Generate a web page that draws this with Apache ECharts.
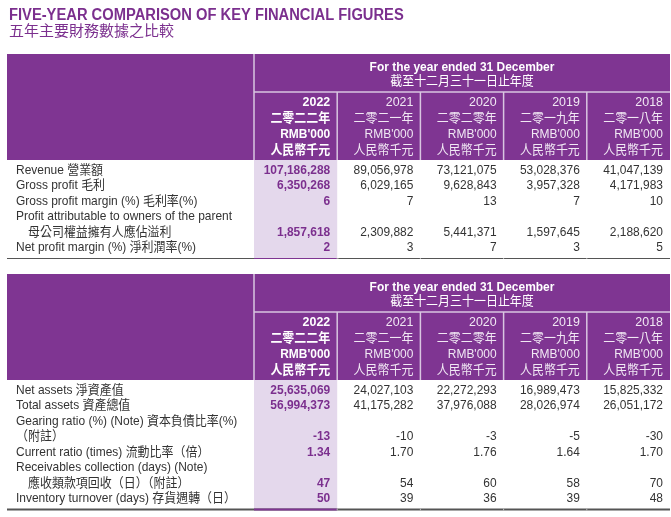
<!DOCTYPE html>
<html>
<head>
<meta charset="utf-8">
<script src="https://cdn.jsdelivr.net/npm/echarts@6/dist/echarts.min.js"></script>
<style>
  html, body { margin: 0; padding: 0; background: #fff; }
  #main { width: 671px; height: 517px; }
</style>
</head>
<body>
<div id="main"></div>
<script>
// 表头文字
var titleEn = 'FIVE-YEAR COMPARISON OF KEY FINANCIAL FIGURES';
var titleCn = '五年主要財務數據之比較';
var headEn = 'For the year ended 31 December';
var headCn = '截至十二月三十一日止年度';
var years = ['2022', '2021', '2020', '2019', '2018'];
var yearsCn = ['二零二二年', '二零二一年', '二零二零年', '二零一九年', '二零一八年'];
var unitEn = "RMB'000";
var unitCn = '人民幣千元';

// 第一张表
var revenue = [107186288, 89056978, 73121075, 53028376, 41047139];
var grossProfit = [6350268, 6029165, 9628843, 3957328, 4171983];
var grossMargin = [6, 7, 13, 7, 10];
var profitOwners = [1857618, 2309882, 5441371, 1597645, 2188620];
var netMargin = [2, 3, 7, 3, 5];

// 第二张表
var netAssets = [25635069, 24027103, 22272293, 16989473, 15825332];
var totalAssets = [56994373, 41175282, 37976088, 28026974, 26051172];
var gearing = [-13, -10, -3, -5, -30];
var currentRatio = [1.34, 1.70, 1.76, 1.64, 1.70];
var receivableDays = [47, 54, 60, 58, 70];
var inventoryDays = [50, 39, 36, 39, 48];

var table1 = [
  { label: ['Revenue 營業額'], values: revenue, dp: 0 },
  { label: ['Gross profit 毛利'], values: grossProfit, dp: 0 },
  { label: ['Gross profit margin (%) 毛利率(%)'], values: grossMargin, dp: 0 },
  { label: ['Profit attributable to owners of the parent', '  母公司權益擁有人應佔溢利'], values: profitOwners, dp: 0 },
  { label: ['Net profit margin (%) 淨利潤率(%)'], values: netMargin, dp: 0 }
];
var table2 = [
  { label: ['Net assets 淨資產值'], values: netAssets, dp: 0 },
  { label: ['Total assets 資產總值'], values: totalAssets, dp: 0 },
  { label: ['Gearing ratio (%) (Note) 資本負債比率(%)', '（附註）'], values: gearing, dp: 0 },
  { label: ['Current ratio (times) 流動比率（倍）'], values: currentRatio, dp: 2 },
  { label: ['Receivables collection (days) (Note)', '  應收類款項回收（日）（附註）'], values: receivableDays, dp: 0 },
  { label: ['Inventory turnover (days) 存貨週轉（日）'], values: inventoryDays, dp: 0 }
];

var PURPLE = '#7f3592';
var TITLE = '#7b2f8e';
var LAV = '#e4d8ec';
var GRID = '#d9c6e1';
var FONT = '"Liberation Sans", Arial, "Noto Sans CJK TC", sans-serif';
var SX = 0.92;

var x0 = 7, xL = 254, xR = 670;
var colW = (xR - xL) / years.length;
var lineH = 15.5;

function fmt(v, dp) {
  return v.toLocaleString('en-US', { minimumFractionDigits: dp, maximumFractionDigits: dp });
}

function txt(x, y, s, o) {
  o = o || {};
  return {
    type: 'text', x: x, y: y, scaleX: o.sx || SX, silent: true, z: 10,
    style: {
      x: 0, y: 0, text: s,
      fill: o.color || '#333',
      font: (o.bold ? 'bold ' : '') + (o.size || 13) + 'px ' + FONT,
      align: o.align || 'left',
      verticalAlign: 'middle'
    }
  };
}
function rect(x, y, w, h, color) {
  return { type: 'rect', silent: true, shape: { x: x, y: y, width: w, height: h }, style: { fill: color } };
}
function line(x1, y1, x2, y2, color, w) {
  return { type: 'line', silent: true, z: 5, shape: { x1: x1, y1: y1, x2: x2, y2: y2 }, style: { stroke: color, lineWidth: w } };
}

function drawTable(top, rows, bottomW) {
  var g = [];
  var hb = top + 106;
  // 紫色表头
  g.push(rect(x0, top, xR - x0, hb - top, PURPLE));
  g.push(line(xL, top, xL, hb, GRID, 1.5));
  g.push(line(xL, top + 38, xR, top + 38, GRID, 1.5));
  for (var i = 1; i < years.length; i++) {
    g.push(line(xL + colW * i, top + 38, xL + colW * i, hb, GRID, 1.5));
  }
  var cx = (xL + xR) / 2;
  g.push(txt(cx, top + 13, headEn, { bold: true, color: '#fff', align: 'center' }));
  g.push(txt(cx, top + 27, headCn, { color: '#fff', align: 'center' }));
  years.forEach(function (y, j) {
    var rx = xL + colW * (j + 1) - 7;
    var b = j === 0;
    var c = b ? '#fff' : '#f1e8f4';
    g.push(txt(rx, top + 48, y, { bold: b, color: c, align: 'right', size: 13.5 }));
    g.push(txt(rx, top + 64, yearsCn[j], { bold: b, color: c, align: 'right' }));
    g.push(txt(rx, top + 80, unitEn, { bold: b, color: c, align: 'right' }));
    g.push(txt(rx, top + 96, unitCn, { bold: b, color: c, align: 'right' }));
  });
  // 明细行
  var nLines = 0;
  rows.forEach(function (r) { nLines += r.label.length; });
  var yFirst = hb + 10;
  var yBottom = yFirst + (nLines - 1) * lineH + 11;
  g.push(rect(xL, hb, colW, yBottom - hb, LAV));
  var k = 0;
  rows.forEach(function (r) {
    r.label.forEach(function (s) {
      var ind = s.indexOf('  ') === 0 ? 12 : 0;
      g.push(txt(16 + ind, yFirst + k * lineH, s.trim(), { color: '#333' }));
      k++;
    });
    var yy = yFirst + (k - 1) * lineH;
    r.values.forEach(function (v, j) {
      var rx = xL + colW * (j + 1) - 7;
      g.push(txt(rx, yy, fmt(v, r.dp), { bold: j === 0, color: j === 0 ? TITLE : '#333', align: 'right' }));
    });
  });
  g.push(line(x0, yBottom, xR, yBottom, '#555', bottomW));
  g.push(line(xL, yBottom, xL + colW, yBottom, PURPLE, bottomW));
  for (var m = 1; m < years.length; m++) {
    g.push(line(xL + colW * m, yBottom - bottomW / 2, xL + colW * m, yBottom + bottomW / 2, '#bbb', 1));
  }
  return g;
}

var chart = echarts.init(document.getElementById('main'), null, { renderer: 'canvas' });
var graphics = [];
graphics.push(txt(9, 16, titleEn, { bold: true, color: TITLE, size: 16, sx: 0.92 }));
graphics.push(txt(9, 32, titleCn, { color: TITLE, size: 15, sx: 1 }));
graphics = graphics.concat(drawTable(54, table1, 1));
graphics = graphics.concat(drawTable(274, table2, 2));

chart.setOption({
  backgroundColor: '#fff',
  animation: false,
  graphic: { elements: graphics }
});
</script>
</body>
</html>
